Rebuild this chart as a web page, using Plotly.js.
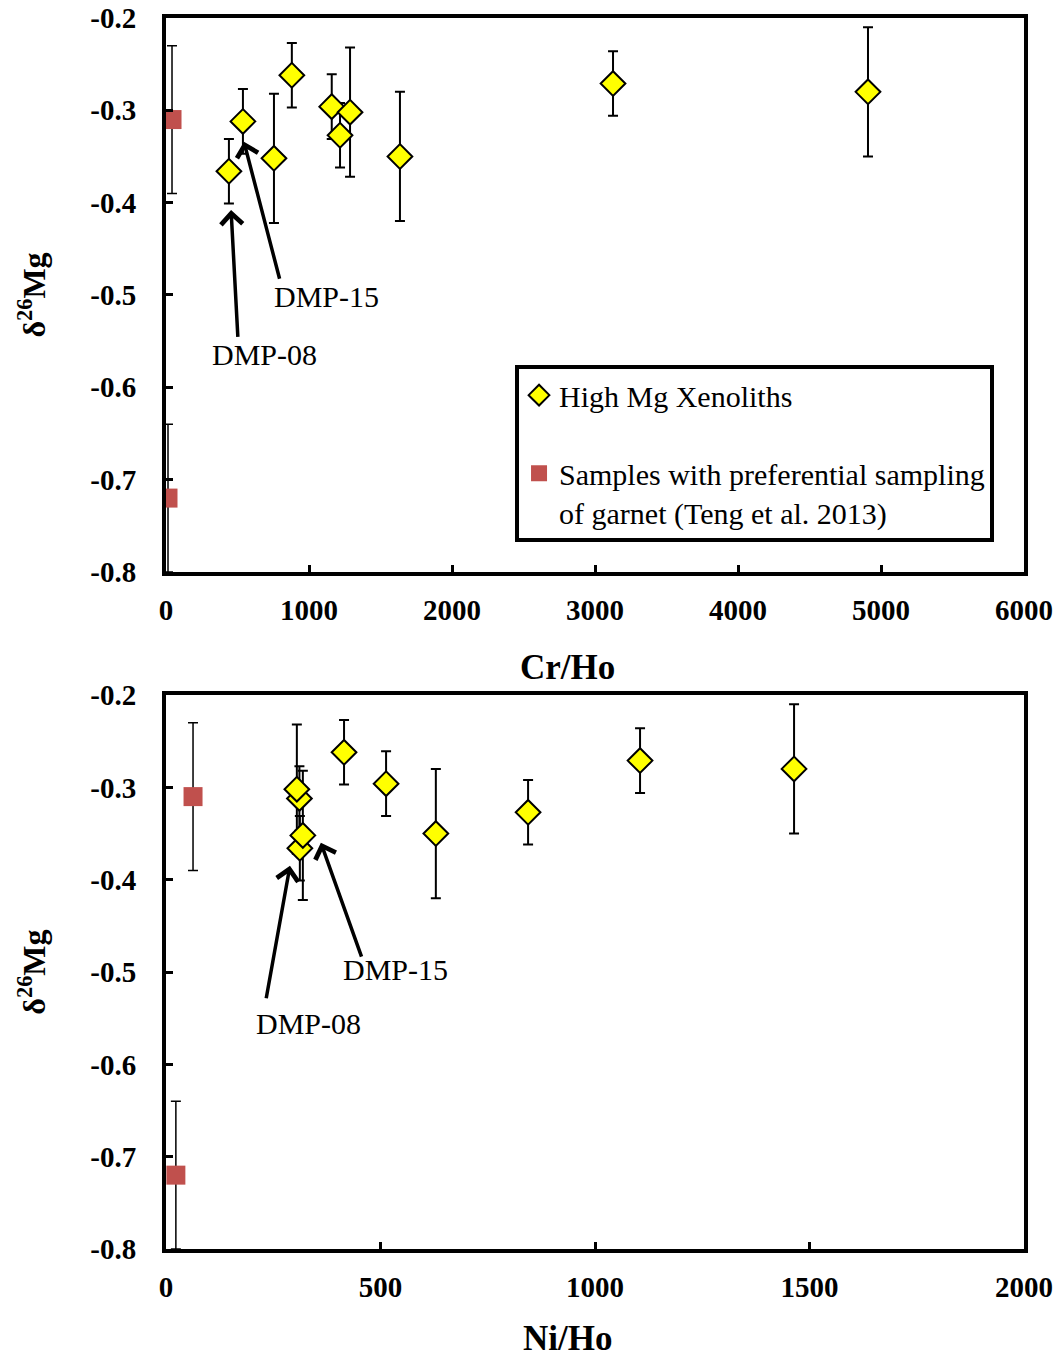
<!DOCTYPE html>
<html>
<head>
<meta charset="utf-8">
<script src="https://cdn.plot.ly/plotly-3.0.1.min.js"></script>
<style>html,body{margin:0;padding:0;background:#fff;}#chart{width:1058px;height:1363px;}</style>
</head>
<body>
<div id="chart"></div>
<script>
// High Mg xenoliths (order: DMP-08, DMP-15, then others)
const sampleNames = ["DMP-08", "DMP-15", "S3", "S4", "S5", "S6", "S7", "S8", "S9", "S10"];
const xenoCrHo = [440, 538, 755, 880, 1159, 1217, 1287, 1636, 3126, 4909];
const xenoNiHo = [312, 311, 319, 415, 513, 844, 305, 629, 1105, 1464];
const xenoD26Mg = [-0.366, -0.312, -0.352, -0.262, -0.296, -0.327, -0.302, -0.350, -0.271, -0.280];
const xenoErr = [0.035, 0.035, 0.07, 0.035, 0.035, 0.035, 0.07, 0.07, 0.035, 0.07];

// Samples with preferential sampling of garnet (Teng et al. 2013)
const tengCrHo = [42, 14];
const tengNiHo = [63, 23];
const tengD26Mg = [-0.31, -0.72];
const tengErr = [0.08, 0.08];

const yTickVals = [-0.8, -0.7, -0.6, -0.5, -0.4, -0.3, -0.2];
const yTickLabels = ["-0.8", "-0.7", "-0.6", "-0.5", "-0.4", "-0.3", "-0.2"];
const crTickVals = [0, 1000, 2000, 3000, 4000, 5000, 6000];
const niTickVals = [0, 500, 1000, 1500, 2000];
const xTitles = ["Cr/Ho", "Ni/Ho"];

const FONT = "Liberation Serif, Times New Roman, serif";
const yellow = "#FFFF00";
const red = "#C0504D";

const errStyle = (arr, w) => ({type: "data", array: arr, visible: true, color: "#000", thickness: w, width: 5});

const traces = [
  {x: xenoCrHo, y: xenoD26Mg, xaxis: "x", yaxis: "y", mode: "markers", type: "scatter",
   name: "High Mg Xenoliths", legendgroup: "a", error_y: errStyle(xenoErr, 2),
   marker: {symbol: "diamond", size: 19, color: yellow, line: {color: "#000", width: 2}}},
  {x: tengCrHo, y: tengD26Mg, xaxis: "x", yaxis: "y", mode: "markers", type: "scatter",
   name: "Samples with preferential sampling<br>of garnet (Teng et al. 2013)", legendgroup: "b",
   error_y: errStyle(tengErr, 1.5),
   marker: {symbol: "square", size: 19, color: red}},
  {x: xenoNiHo, y: xenoD26Mg, xaxis: "x2", yaxis: "y2", mode: "markers", type: "scatter",
   showlegend: false, error_y: errStyle(xenoErr, 2),
   marker: {symbol: "diamond", size: 19, color: yellow, line: {color: "#000", width: 2}}},
  {x: tengNiHo, y: tengD26Mg, xaxis: "x2", yaxis: "y2", mode: "markers", type: "scatter",
   showlegend: false, error_y: errStyle(tengErr, 1.5),
   marker: {symbol: "square", size: 19, color: red}}
];

const axCommon = {
  showline: true, mirror: true, linewidth: 4, linecolor: "#000",
  ticks: "inside", ticklen: 7, tickwidth: 3, tickcolor: "#000",
  showgrid: false, zeroline: false, fixedrange: true,
  tickfont: {family: FONT, size: 29, color: "#000", weight: "bold"}
};

const yAx = (dom, anchor) => Object.assign({}, axCommon, {
  domain: dom, anchor: anchor, range: [-0.8, -0.2],
  tickmode: "array", tickvals: yTickVals, ticktext: yTickLabels, ticklabelstandoff: 20,
  title: {text: "δ<sup>26</sup>Mg", font: {family: FONT, size: 32, color: "#000", weight: "bold"}, standoff: 36}
});
const xAx = (anchor, range, vals) => Object.assign({}, axCommon, {
  domain: [0, 1], anchor: anchor, range: range,
  tickmode: "array", tickvals: vals, ticktext: vals.map(String), ticklabelstandoff: 9
});

const arrowStyle = {showarrow: true, arrowhead: 4, arrowsize: 1.2, arrowwidth: 3.5, arrowcolor: "#000", standoff: 0, startstandoff: 0, text: ""};
const labelStyle = {showarrow: false, font: {family: FONT, size: 30, color: "#000"}};
const titleStyle = {showarrow: false, xref: "paper", yref: "paper", xanchor: "center", yanchor: "middle",
  font: {family: FONT, size: 35, color: "#000", weight: "bold"}};

const annotations = [
  // top panel
  Object.assign({}, arrowStyle, {xref: "x", yref: "y", axref: "x", ayref: "y", x: 545, y: -0.334, ax: 797, ay: -0.484}),
  Object.assign({}, arrowStyle, {xref: "x", yref: "y", axref: "x", ayref: "y", x: 455, y: -0.408, ax: 503, ay: -0.547}),
  Object.assign({}, labelStyle, {xref: "x", yref: "y", x: 1119, y: -0.502, text: sampleNames[1]}),
  Object.assign({}, labelStyle, {xref: "x", yref: "y", x: 692, y: -0.565, text: sampleNames[0]}),
  // bottom panel
  Object.assign({}, arrowStyle, {xref: "x2", yref: "y2", axref: "x2", ayref: "y2", x: 361, y: -0.360, ax: 457, ay: -0.485}),
  Object.assign({}, arrowStyle, {xref: "x2", yref: "y2", axref: "x2", ayref: "y2", x: 289, y: -0.385, ax: 233, ay: -0.53}),
  Object.assign({}, labelStyle, {xref: "x2", yref: "y2", x: 536, y: -0.497, text: sampleNames[1]}),
  Object.assign({}, labelStyle, {xref: "x2", yref: "y2", x: 331, y: -0.556, text: sampleNames[0]}),
  // x-axis titles
  Object.assign({}, titleStyle, {x: 0.4685, y: 0.472, text: xTitles[0]}),
  Object.assign({}, titleStyle, {x: 0.4685, y: -0.0728, text: xTitles[1]})
];

const layout = {
  width: 1058, height: 1363,
  margin: {l: 166, r: 34, t: 18, b: 114},
  paper_bgcolor: "#fff", plot_bgcolor: "#fff",
  font: {family: FONT, color: "#000"},
  showlegend: true,
  legend: {
    x: 0.4068, y: 0.718, xanchor: "left", yanchor: "top",
    bgcolor: "#fff", bordercolor: "#000", borderwidth: 4,
    font: {family: FONT, size: 30, color: "#000"},
    traceorder: "grouped", tracegroupgap: 36, valign: "top", itemwidth: 30
  },
  xaxis: xAx("y", [0, 6000], crTickVals),
  yaxis: yAx([0.55, 1], "x"),
  xaxis2: xAx("y2", [0, 2000], niTickVals),
  yaxis2: yAx([0, 0.45], "x2"),
  annotations: annotations
};

Plotly.newPlot("chart", traces, layout, {staticPlot: true, displayModeBar: false});
</script>
</body>
</html>
